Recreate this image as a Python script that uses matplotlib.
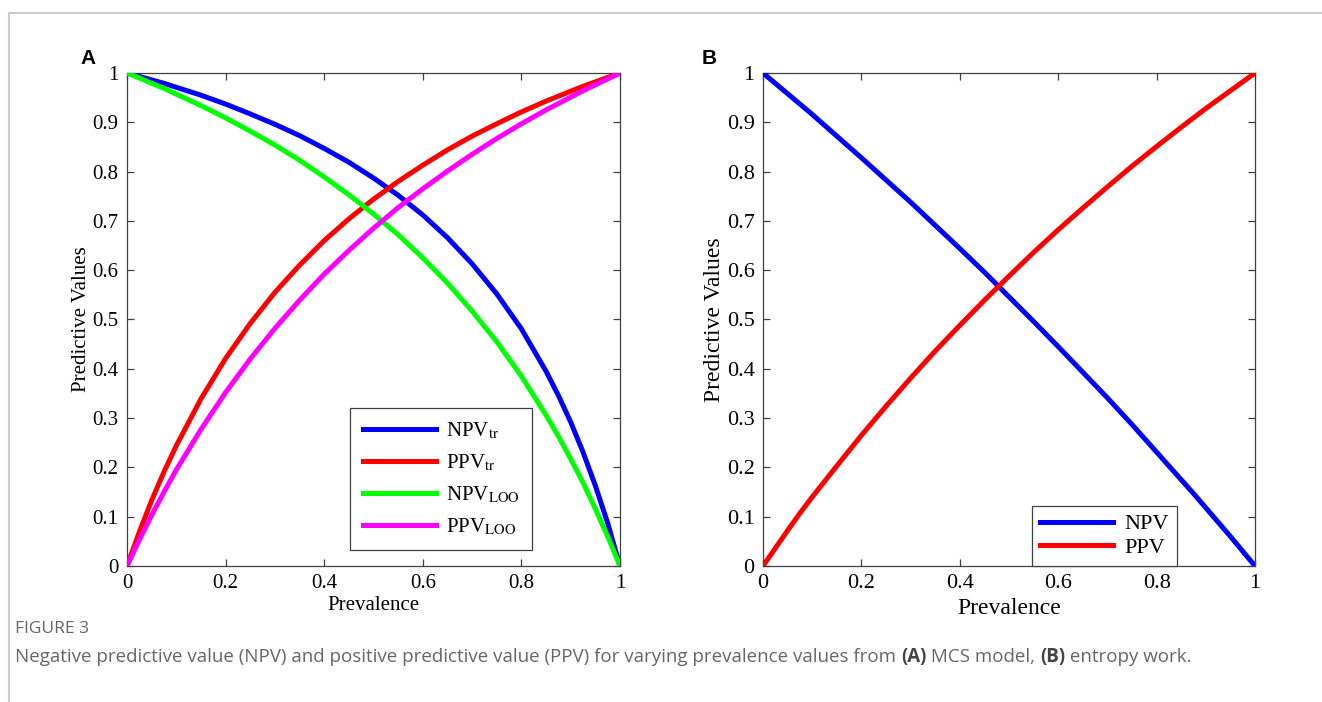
"""
Predictive values vs prevalence (two panels), redrawn from the figure.
"""

import matplotlib
matplotlib.use('Agg')
import matplotlib.pyplot as plt
from matplotlib.lines import Line2D
from matplotlib.ticker import FormatStrFormatter, MultipleLocator

# Prevalence grid used for every curve (denser near the ends where curves are steep)
prevalence = [0.0, 0.025, 0.05, 0.075, 0.1, 0.15, 0.2, 0.25, 0.3, 0.35, 0.4, 0.45, 0.5,
              0.55, 0.6, 0.65, 0.7, 0.75, 0.8, 0.85, 0.875, 0.9, 0.925, 0.95, 0.975, 1.0]

# Panel A - MCS model
npv_tr = [1.0, 0.993, 0.986, 0.979, 0.971, 0.955, 0.937, 0.917, 0.896, 0.873, 0.847, 0.819, 0.787,
          0.752, 0.712, 0.666, 0.613, 0.552, 0.481, 0.395, 0.346, 0.292, 0.231, 0.163, 0.087, 0.0]
ppv_tr = [0.0, 0.069, 0.133, 0.191, 0.244, 0.339, 0.421, 0.492, 0.555, 0.610, 0.660, 0.704, 0.744,
          0.780, 0.813, 0.844, 0.872, 0.897, 0.921, 0.943, 0.953, 0.963, 0.973, 0.982, 0.991, 1.0]
npv_loo = [1.0, 0.990, 0.979, 0.969, 0.957, 0.934, 0.909, 0.882, 0.854, 0.823, 0.789, 0.753, 0.714,
           0.672, 0.625, 0.574, 0.517, 0.455, 0.385, 0.306, 0.263, 0.217, 0.169, 0.116, 0.060, 0.0]
ppv_loo = [0.0, 0.053, 0.103, 0.150, 0.195, 0.277, 0.352, 0.420, 0.482, 0.539, 0.592, 0.640, 0.685,
           0.727, 0.765, 0.801, 0.835, 0.867, 0.897, 0.925, 0.938, 0.951, 0.964, 0.976, 0.988, 1.0]

# Panel B - entropy work
npv_b = [1.0, 0.979, 0.958, 0.937, 0.916, 0.872, 0.828, 0.783, 0.738, 0.691, 0.644, 0.596, 0.546,
         0.496, 0.445, 0.393, 0.341, 0.287, 0.231, 0.175, 0.147, 0.118, 0.089, 0.060, 0.030, 0.0]
ppv_b = [0.0, 0.036, 0.072, 0.107, 0.140, 0.203, 0.265, 0.324, 0.381, 0.436, 0.488, 0.539, 0.588,
         0.636, 0.682, 0.726, 0.769, 0.811, 0.851, 0.890, 0.909, 0.928, 0.946, 0.964, 0.982, 1.0]

W, H = 1322, 702
plt.rcParams['mathtext.fontset'] = 'stix'
plt.rcParams['font.family'] = 'Liberation Serif'

fig = plt.figure(figsize=(W / 100, H / 100), dpi=100)


def px_axes(left, top, right, bottom):
    return fig.add_axes([left / W, 1 - bottom / H, (right - left) / W, (bottom - top) / H])


def style_axes(ax, tick_fs, label_fs, xpad, ypad):
    ax.set_xlim(0, 1)
    ax.set_ylim(0, 1)
    ax.xaxis.set_major_locator(MultipleLocator(0.2))
    ax.yaxis.set_major_locator(MultipleLocator(0.1))
    ax.xaxis.set_major_formatter(FormatStrFormatter('%g'))
    ax.yaxis.set_major_formatter(FormatStrFormatter('%g'))
    ax.tick_params(direction='in', length=5, width=0.9, color='#404040',
                   top=True, right=True, labelsize=tick_fs, pad=6)
    for sp in ax.spines.values():
        sp.set_color('#404040')
        sp.set_linewidth(0.9)
    ax.set_xlabel('Prevalence', fontsize=label_fs, labelpad=xpad)
    ax.set_ylabel('Predictive Values', fontsize=label_fs, labelpad=ypad)


def frame_legend(leg):
    leg.get_frame().set_edgecolor('#404040')
    leg.get_frame().set_linewidth(0.9)


LW = 3.6

# Panel A
ax_a = px_axes(127, 73, 620, 566)
ax_a.plot(prevalence, npv_tr, color='#0000ff', lw=LW, label=r'NPV$_{\mathrm{tr}}$', zorder=3)
ax_a.plot(prevalence, ppv_tr, color='#ff0000', lw=LW, label=r'PPV$_{\mathrm{tr}}$', zorder=3)
ax_a.plot(prevalence, npv_loo, color='#00ff00', lw=LW, label=r'NPV$_{\mathrm{LOO}}$', zorder=3)
ax_a.plot(prevalence, ppv_loo, color='#ff00ff', lw=LW, label=r'PPV$_{\mathrm{LOO}}$', zorder=3)
style_axes(ax_a, 15, 15, 2, 1)
leg = ax_a.legend(loc='lower right', bbox_to_anchor=(0.8215, 0.0325), borderaxespad=0,
                  fontsize=15, handlelength=3.5, handletextpad=0.5, labelspacing=0.55,
                  borderpad=0.6, fancybox=False, framealpha=1)
frame_legend(leg)

# Panel B
ax_b = px_axes(763, 73, 1255, 566)
ax_b.plot(prevalence, npv_b, color='#0000ff', lw=LW, label='NPV', zorder=3)
ax_b.plot(prevalence, ppv_b, color='#ff0000', lw=LW, label='PPV', zorder=3)
style_axes(ax_b, 16, 17, 3, 1)
leg = ax_b.legend(loc='lower right', bbox_to_anchor=(0.841, 0.0), borderaxespad=0,
                  fontsize=16, handlelength=3.3, handletextpad=0.5, labelspacing=0.15,
                  borderpad=0.35, fancybox=False, framealpha=1)
frame_legend(leg)

# Panel letters
fig.text(80 / W, 1 - 58 / H, 'A', fontsize=15, fontweight='bold',
         family='Liberation Sans', va='center', ha='left')
fig.text(702 / W, 1 - 58 / H, 'B', fontsize=15, fontweight='bold',
         family='Liberation Sans', va='center', ha='left')

# Page frame lines
fig.add_artist(Line2D([9 / W, 1], [1 - 13 / H, 1 - 13 / H], color='#cccccc', lw=1.5))
fig.add_artist(Line2D([9 / W, 9 / W], [0, 1 - 13 / H], color='#cccccc', lw=1.5))

# Caption
CAP = 'Open Sans'
fig.text(15 / W, 1 - 629 / H, 'FIGURE 3', fontsize=12.5, color='#666666',
         family=CAP, va='center', ha='left')

pieces = [('Negative predictive value (NPV) and positive predictive value (PPV) for varying '
           'prevalence values from ', 'normal', '#666666'),
          ('(A)', 'bold', '#444444'),
          (' MCS model, ', 'normal', '#666666'),
          ('(B)', 'bold', '#444444'),
          (' entropy work.', 'normal', '#666666')]
renderer = fig.canvas.get_renderer()
x = 15
for txt, weight, col in pieces:
    t = fig.text(x / W, 1 - 657 / H, txt, fontsize=13.5, color=col, fontweight=weight,
                 family=CAP, va='center', ha='left')
    x += t.get_window_extent(renderer).width

fig.savefig('out.png', dpi=100)
